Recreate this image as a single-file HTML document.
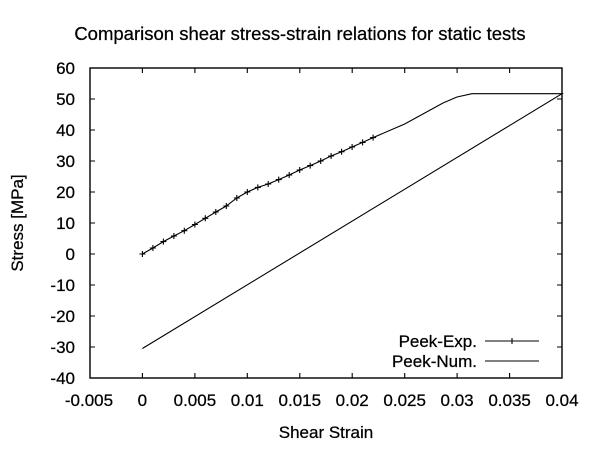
<!DOCTYPE html>
<html><head><style>body{margin:0;background:#fff}svg{display:block}text{font-family:"Liberation Sans",sans-serif;fill:#000;stroke:#000;stroke-width:0.25}</style></head>
<body>
<svg width="600" height="450" viewBox="0 0 600 450">
<text x="300" y="40" font-size="18.5" text-anchor="middle">Comparison shear stress-strain relations for static tests</text>
<rect x="90" y="68" width="472" height="310" fill="none" stroke="#000" stroke-width="1.4"/>
<g font-size="17" text-anchor="end">
<text x="75" y="74">60</text><text x="75" y="105">50</text><text x="75" y="136">40</text><text x="75" y="167">30</text><text x="75" y="198">20</text><text x="75" y="229">10</text><text x="75" y="260">0</text><text x="75" y="291">-10</text><text x="75" y="322">-20</text><text x="75" y="353">-30</text><text x="75" y="384">-40</text>
</g>
<g font-size="17" text-anchor="middle">
<text x="89" y="406">-0.005</text><text x="142.4" y="406">0</text><text x="194.9" y="406">0.005</text><text x="247.3" y="406">0.01</text><text x="299.8" y="406">0.015</text><text x="352.2" y="406">0.02</text><text x="404.7" y="406">0.025</text><text x="457.1" y="406">0.03</text><text x="509.6" y="406">0.035</text><text x="562" y="406">0.04</text>
</g>
<text x="326" y="438" font-size="17" text-anchor="middle">Shear Strain</text>
<text transform="translate(23,223) rotate(-90)" font-size="17" text-anchor="middle">Stress [MPa]</text>
<g stroke="#000" stroke-width="1.1">
<path d="M90 99h5M90 130h5M90 161h5M90 192h5M90 223h5M90 254h5M90 285h5M90 316h5M90 347h5M562 99h-5M562 130h-5M562 161h-5M562 192h-5M562 223h-5M562 254h-5M562 285h-5M562 316h-5M562 347h-5M142.4 378v-5M194.9 378v-5M247.3 378v-5M299.8 378v-5M352.2 378v-5M404.7 378v-5M457.1 378v-5M509.6 378v-5M142.4 68v5M194.9 68v5M247.3 68v5M299.8 68v5M352.2 68v5M404.7 68v5M457.1 68v5M509.6 68v5" fill="none"/>
<polyline fill="none" points="142.4,254 152.9,248 163.4,241.6 173.9,236 184.3,230.7 194.9,224.5 205.3,218.3 215.8,212 226.3,206 236.8,198 247.3,192 257.8,187.4 268.2,184 278.7,179.6 289.2,175 299.7,170 310.2,165.6 320.7,161 331.1,156 341.6,151.7 352.1,147 362.6,142.4 373.1,137.6 404.7,124 443,103 457,97 472,93.7 562,93.7 142.4,348.5"/>
</g>
<g stroke="#000" stroke-width="1.1" fill="none">
<path d="M139.4 254h6M142.4 251v6M149.9 248h6M152.9 245v6M160.4 241.6h6M163.4 238.6v6M170.9 236h6M173.9 233v6M181.3 230.7h6M184.3 227.7v6M191.9 224.5h6M194.9 221.5v6M202.3 218.3h6M205.3 215.3v6M212.8 212h6M215.8 209v6M223.3 206h6M226.3 203v6M233.8 198h6M236.8 195v6M244.3 192h6M247.3 189v6M254.8 187.4h6M257.8 184.4v6M265.2 184h6M268.2 181v6M275.7 179.6h6M278.7 176.6v6M286.2 175h6M289.2 172v6M296.7 170h6M299.7 167v6M307.2 165.6h6M310.2 162.6v6M317.7 161h6M320.7 158v6M328.1 156h6M331.1 153v6M338.6 151.7h6M341.6 148.7v6M349.1 147h6M352.1 144v6M359.6 142.4h6M362.6 139.4v6M370.1 137.6h6M373.1 134.6v6"/>
<path d="M485 341h54M512 338v6M485 361h54"/>
</g>
<g font-size="17" text-anchor="end"><text x="477" y="347">Peek-Exp.</text><text x="477" y="367">Peek-Num.</text></g>
</svg>
</body></html>
